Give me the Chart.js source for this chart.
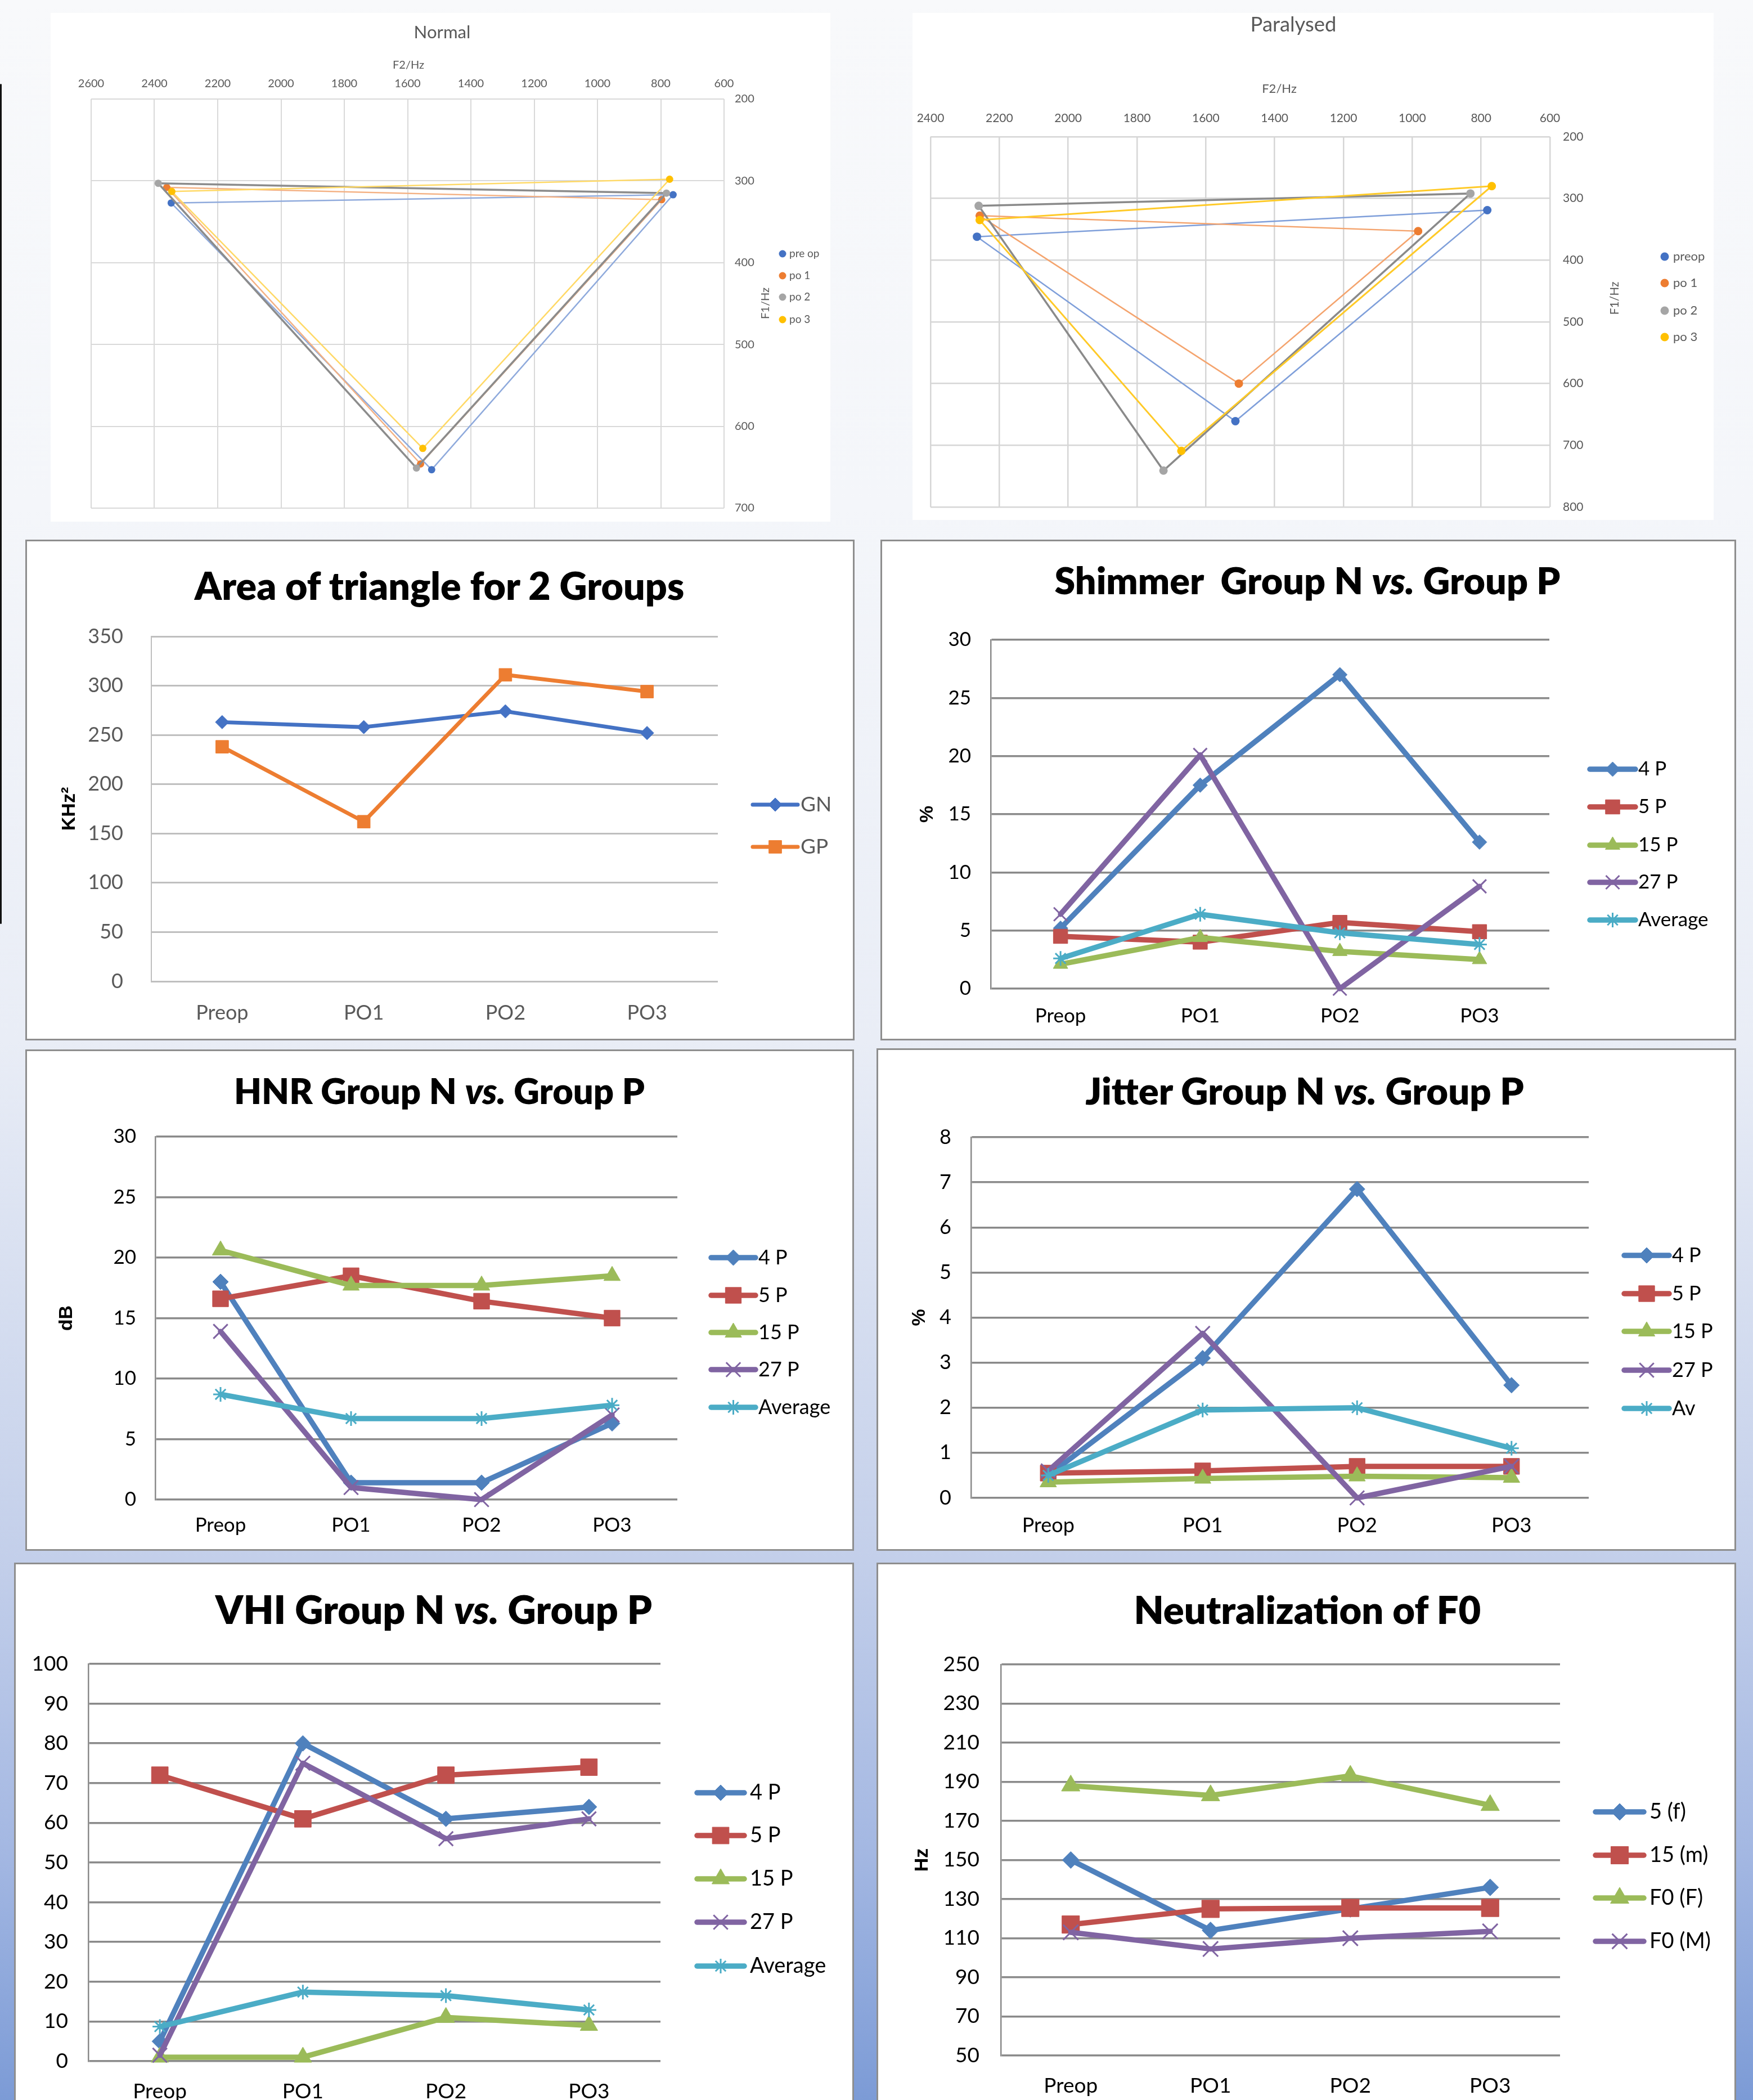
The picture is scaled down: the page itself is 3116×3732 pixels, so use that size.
<!DOCTYPE html>
<html lang="en">
<head>
<meta charset="utf-8">
<title>Vowel triangles and voice measures</title>
<script src="https://cdn.jsdelivr.net/npm/chart.js@4.4.1/dist/chart.umd.min.js"></script>
<style>
  html, body { margin: 0; padding: 0; }
  body {
    position: relative; width: 3116px; height: 3732px; overflow: hidden;
    background: linear-gradient(180deg, #f8f9fb 0px, #f4f6fa 900px, #e9edf6 1850px,
                #c3cfea 2770px, #a3b7e2 3300px, #7c9bd6 3732px);
  }
  .edge { position: absolute; left: 0; top: 149px; width: 3px; height: 1493px; background: #111; border-radius: 2px; }
  .panel { position: absolute; background: #fff; box-sizing: border-box; }
  .panel.framed { border: 3px solid #8e8e8e; }
  .panel canvas { position: absolute; left: 0; top: 0; }
  .title { position: absolute; z-index: 2; white-space: pre; line-height: 1; transform: translate(-50%, -50%);
           font-family: Lato, "Open Sans", sans-serif; }
</style>
</head>
<body>
<div class="edge"></div>
<script>
// ---------------- data ----------------
const stages = ['Preop', 'PO1', 'PO2', 'PO3'];

// Vowel triangles: F2 and F1 (Hz) of the three corner vowels
const normalKeys = ['pre op', 'po 1', 'po 2', 'po 3'];
const normalPreOpF2 = [2347, 761, 1524];
const normalPreOpF1 = [327, 317, 653];
const normalPo1F2 = [2361, 797, 1559];
const normalPo1F1 = [308, 323, 646];
const normalPo2F2 = [2388, 782, 1572];
const normalPo2F1 = [303, 315, 651];
const normalPo3F2 = [2345, 772, 1552];
const normalPo3F1 = [313, 298, 627];

const paralysedKeys = ['preop', 'po 1', 'po 2', 'po 3'];
const paralysedPreOpF2 = [2265, 782, 1514];
const paralysedPreOpF1 = [362, 319, 661];
const paralysedPo1F2 = [2257, 983, 1504];
const paralysedPo1F1 = [328, 353, 600];
const paralysedPo2F2 = [2260, 831, 1723];
const paralysedPo2F1 = [312, 292, 741];
const paralysedPo3F2 = [2257, 769, 1671];
const paralysedPo3F1 = [335, 280, 709];

// Area of the vowel triangle (KHz²)
const areaKeys = ['GN', 'GP'];
const areaGN = [263, 258, 274, 252];
const areaGP = [238, 162, 311, 294];

// Patient series shared by the shimmer / HNR / jitter / VHI panels
const patientKeys = ['4 P', '5 P', '15 P', '27 P', 'Average'];
const jitterKeys = ['4 P', '5 P', '15 P', '27 P', 'Av'];

const shimmer4P = [5.2, 17.5, 27.0, 12.6];
const shimmer5P = [4.5, 4.0, 5.7, 4.9];
const shimmer15P = [2.1, 4.4, 3.2, 2.5];
const shimmer27P = [6.4, 20.1, 0, 8.8];
const shimmerAvg = [2.6, 6.4, 4.8, 3.8];

const hnr4P = [18.0, 1.4, 1.4, 6.3];
const hnr5P = [16.6, 18.5, 16.4, 15.0];
const hnr15P = [20.6, 17.7, 17.7, 18.5];
const hnr27P = [13.9, 1.0, 0, 7.0];
const hnrAvg = [8.7, 6.7, 6.7, 7.8];

const jitter4P = [0.5, 3.1, 6.85, 2.5];
const jitter5P = [0.55, 0.6, 0.7, 0.7];
const jitter15P = [0.35, 0.43, 0.48, 0.45];
const jitter27P = [0.6, 3.65, 0, 0.7];
const jitterAv = [0.5, 1.95, 2.0, 1.1];

const vhi4P = [5, 80, 61, 64];
const vhi5P = [72, 61, 72, 74];
const vhi15P = [1, 1, 11, 9];
const vhi27P = [1.5, 75, 56, 61];
const vhiAvg = [8.7, 17.4, 16.5, 12.9];

// Fundamental frequency (Hz)
const f0Keys = ['5 (f)', '15 (m)', 'F0 (F)', 'F0 (M)'];
const f0Patient5 = [150, 114, 125, 136];
const f0Patient15 = [117, 125, 125.5, 125.5];
const f0NormF = [188, 183, 193, 178];
const f0NormM = [113, 104.5, 110, 113.5];

// ---------------- drawing helpers ----------------
const FONT = 'Lato, "Open Sans", sans-serif';
const AXIS_FONT = '"Liberation Sans", Arial, sans-serif';
Chart.defaults.font.family = FONT;

const BLUE = '#4F81BD', RED = '#C0504D', GREEN = '#9BBB59', PURPLE = '#8064A2', AQUA = '#4BACC6';

function mountPanel(box, framed) {
  const div = document.createElement('div');
  div.className = framed ? 'panel framed' : 'panel';
  div.style.left = box.x + 'px'; div.style.top = box.y + 'px';
  div.style.width = box.w + 'px'; div.style.height = box.h + 'px';
  const b = framed ? 3 : 0;
  const cv = document.createElement('canvas');
  cv.width = box.w - 2 * b; cv.height = box.h - 2 * b;
  cv.style.width = cv.width + 'px'; cv.style.height = cv.height + 'px';
  div.appendChild(cv);
  document.body.appendChild(div);
  return { cv, ox: box.x + b, oy: box.y + b, W: cv.width, H: cv.height };
}

const measureCtx = document.createElement('canvas').getContext('2d');
function addTitle(parts, cx, cy, width, weight, color) {
  let w100 = 0;
  parts.forEach(([t, it]) => {
    measureCtx.font = (it ? 'italic ' : '') + weight + ' 100px ' + FONT;
    w100 += measureCtx.measureText(t).width;
  });
  const div = document.createElement('div');
  div.className = 'title';
  div.style.left = cx + 'px'; div.style.top = cy + 'px';
  div.style.fontSize = (100 * width / w100).toFixed(1) + 'px';
  div.style.fontWeight = weight; div.style.color = color;
  parts.forEach(([t, it]) => {
    const s = document.createElement('span');
    s.textContent = t;
    if (it) s.style.fontStyle = 'italic';
    div.appendChild(s);
  });
  document.body.appendChild(div);
}

function drawMarker(ctx, style, r, bw, x, y) {
  const H = Chart.helpers;
  if (H && H.drawPoint) {
    H.drawPoint(ctx, { pointStyle: style, radius: r, borderWidth: bw, rotation: 0 }, x, y);
    return;
  }
  const c = Math.SQRT1_2 * r;
  ctx.beginPath();
  if (style === 'rect') ctx.rect(x - c, y - c, 2 * c, 2 * c);
  else if (style === 'rectRot') { ctx.moveTo(x - r, y); ctx.lineTo(x, y - r); ctx.lineTo(x + r, y); ctx.lineTo(x, y + r); ctx.closePath(); }
  else if (style === 'triangle') { ctx.moveTo(x, y - r); ctx.lineTo(x + 0.866 * r, y + r / 2); ctx.lineTo(x - 0.866 * r, y + r / 2); ctx.closePath(); }
  else if (style === 'crossRot' || style === 'star') {
    ctx.moveTo(x - c, y - c); ctx.lineTo(x + c, y + c); ctx.moveTo(x - c, y + c); ctx.lineTo(x + c, y - c);
    if (style === 'star') { ctx.moveTo(x, y - r); ctx.lineTo(x, y + r); ctx.moveTo(x - r, y); ctx.lineTo(x + r, y); }
  } else ctx.arc(x, y, r, 0, Math.PI * 2);
  ctx.fill();
  if (bw > 0) ctx.stroke();
}

// Axis boxes get fixed sizes so the plot area sits at a chosen place
function fixBox(size, horizontal) {
  return s => {
    if (horizontal) { s.height = size; s.paddingLeft = 0; s.paddingRight = 0; }
    else { s.width = size; s.paddingTop = 0; s.paddingBottom = 0; }
  };
}

// Legend column and free axis captions, positioned in page coordinates
function keyPlugin(p, key) {
  return {
    id: 'sideKey',
    afterDraw(chart) {
      const ctx = chart.ctx;
      ctx.save();
      chart.data.datasets.forEach((ds, i) => {
        const y = key.rows[i] - p.oy;
        let mx = key.x0 - p.ox;
        if (key.x1 !== undefined) {
          ctx.strokeStyle = ds.borderColor; ctx.lineWidth = ds.borderWidth; ctx.lineCap = 'round';
          ctx.beginPath(); ctx.moveTo(key.x0 - p.ox, y); ctx.lineTo(key.x1 - p.ox, y); ctx.stroke();
          mx = (key.x0 + key.x1) / 2 - p.ox;
        }
        const r = Array.isArray(ds.pointRadius) ? ds.pointRadius[0] : ds.pointRadius;
        ctx.fillStyle = ds.pointBackgroundColor; ctx.strokeStyle = ds.pointBorderColor;
        ctx.lineWidth = ds.pointBorderWidth; ctx.lineCap = 'butt';
        drawMarker(ctx, ds.pointStyle, r, ds.pointBorderWidth, mx, y);
        ctx.fillStyle = key.color; ctx.font = key.size + 'px ' + FONT;
        ctx.textAlign = 'left'; ctx.textBaseline = 'middle';
        ctx.fillText(ds.label, key.textX - p.ox, y);
      });
      (key.texts || []).forEach(t => {
        ctx.save();
        ctx.translate(t.x - p.ox, t.y - p.oy);
        ctx.rotate(t.rot || 0);
        ctx.fillStyle = key.color; ctx.font = t.size + 'px ' + FONT;
        ctx.textAlign = 'center'; ctx.textBaseline = 'middle';
        ctx.fillText(t.text, 0, 0);
        ctx.restore();
      });
      ctx.restore();
    }
  };
}

// Line chart over the four assessment stages
function stageChart(p, spec) {
  const L = spec.plot.l - p.ox, T = spec.plot.t - p.oy, R = spec.plot.r - p.ox, B = spec.plot.b - p.oy;
  const lh = spec.tickSize * 1.2;
  const n = spec.series.length;
  const datasets = spec.series.map(([label, values, color, style, r], i) => ({
    label, data: values,
    borderColor: color, backgroundColor: color, borderWidth: spec.lineWidth,
    borderJoinStyle: 'round', borderCapStyle: 'round', tension: 0,
    pointStyle: style, pointRadius: r, pointHoverRadius: r,
    pointBackgroundColor: color, pointBorderColor: color,
    pointBorderWidth: (style === 'crossRot' || style === 'star') ? 3 : 1,
    clip: false, order: n - i
  }));
  const tickFont = { family: FONT, size: spec.tickSize };
  const yTitle = spec.yTitle ? {
    display: true, text: spec.yTitle, color: '#000',
    font: { family: AXIS_FONT, size: spec.yTitleSize, weight: 'bold' },
    padding: { top: (spec.yTitleX - p.ox) - spec.yTitleSize * 0.6, bottom: 0 }
  } : { display: false };
  return new Chart(p.cv, {
    type: 'line',
    data: { labels: stages, datasets },
    options: {
      responsive: false, animation: false, devicePixelRatio: 1,
      layout: { padding: { left: 0, top: T, right: p.W - R, bottom: 0 } },
      plugins: { legend: { display: false }, tooltip: { enabled: false } },
      scales: {
        x: {
          type: 'category', offset: true,
          grid: { display: false, drawTicks: false }, border: { display: false },
          ticks: { color: spec.tickColor, font: tickFont, padding: (spec.xLabelY - p.oy) - B - lh / 2,
                   maxRotation: 0, autoSkip: false },
          afterFit: fixBox(p.H - B, true)
        },
        y: {
          type: 'linear', min: spec.y.min, max: spec.y.max,
          ticks: { stepSize: spec.y.step, color: spec.tickColor, font: tickFont,
                   padding: L - (spec.yLabelRight - p.ox) },
          grid: { color: spec.grid.color, lineWidth: spec.grid.width, drawTicks: false },
          border: { display: true, color: spec.axisLine.color, width: spec.axisLine.width },
          title: yTitle,
          afterFit: fixBox(L, false)
        }
      }
    },
    plugins: [keyPlugin(p, spec.key)]
  });
}

// F2/F1 scatter with each triangle closed back to its first corner
function vowelChart(p, spec) {
  const L = spec.plot.l - p.ox, T = spec.plot.t - p.oy, R = spec.plot.r - p.ox, B = spec.plot.b - p.oy;
  const lh = spec.tickSize * 1.2;
  const n = spec.series.length;
  const datasets = spec.series.map(([label, f2, f1, color, lineColor, lineW], i) => {
    const pts = f2.map((v, k) => ({ x: v, y: f1[k] }));
    pts.push({ x: f2[0], y: f1[0] });
    return {
      label, data: pts, showLine: true,
      borderColor: lineColor, borderWidth: lineW, tension: 0,
      pointStyle: 'circle', pointRadius: [spec.dot, spec.dot, spec.dot, 0], pointHoverRadius: spec.dot,
      pointBackgroundColor: color, pointBorderColor: color, pointBorderWidth: 0,
      clip: false, order: n - i
    };
  });
  const tickFont = { family: FONT, size: spec.tickSize };
  const grid = { color: spec.gridColor, lineWidth: spec.gridWidth, drawTicks: false };
  return new Chart(p.cv, {
    type: 'scatter',
    data: { datasets },
    options: {
      responsive: false, animation: false, devicePixelRatio: 1,
      layout: { padding: { left: L, top: 0, right: 0, bottom: p.H - B } },
      plugins: { legend: { display: false }, tooltip: { enabled: false } },
      scales: {
        x: {
          type: 'linear', position: 'top', reverse: true, min: spec.x.min, max: spec.x.max,
          ticks: { stepSize: spec.x.step, color: '#595959', font: tickFont, callback: v => String(v),
                   padding: T - (spec.xLabelY - p.oy) - lh / 2 },
          grid, border: { display: false },
          afterFit: fixBox(T, true)
        },
        y: {
          type: 'linear', position: 'right', reverse: true, min: spec.y.min, max: spec.y.max,
          ticks: { stepSize: spec.y.step, color: '#595959', font: tickFont, callback: v => String(v),
                   padding: (spec.yLabelLeft - p.ox) - R },
          grid, border: { display: false },
          afterFit: fixBox(p.W - R, false)
        }
      }
    },
    plugins: [keyPlugin(p, spec.key)]
  });
}

// ---------------- panels ----------------
// Normal group vowel triangle
const normalPanel = mountPanel({ x: 90, y: 23, w: 1386, h: 904 }, false);
vowelChart(normalPanel, {
  plot: { l: 162, t: 176, r: 1287, b: 903 },
  x: { min: 600, max: 2600, step: 200 }, y: { min: 200, max: 700, step: 100 },
  tickSize: 20, xLabelY: 149, yLabelLeft: 1306,
  gridColor: '#d9d9d9', gridWidth: 2, dot: 6.5,
  series: [
    [normalKeys[0], normalPreOpF2, normalPreOpF1, '#4472C4', '#8FAADC', 2.5],
    [normalKeys[1], normalPo1F2, normalPo1F1, '#ED7D31', '#F4B183', 2.5],
    [normalKeys[2], normalPo2F2, normalPo2F1, '#A5A5A5', '#8C8C8C', 3.5],
    [normalKeys[3], normalPo3F2, normalPo3F1, '#FFC000', '#FFD966', 2.5]
  ],
  key: {
    x0: 1391, textX: 1403, rows: [451, 490, 528, 568], size: 19, color: '#595959',
    texts: [
      { text: 'F2/Hz', x: 726, y: 116, size: 20 },
      { text: 'F1/Hz', x: 1361, y: 539, size: 20, rot: -Math.PI / 2 }
    ]
  }
});
addTitle([['Normal', false]], 786, 57, 101, 400, '#595959');

// Paralysed group vowel triangle
const paralysedPanel = mountPanel({ x: 1622, y: 23, w: 1424, h: 901 }, false);
vowelChart(paralysedPanel, {
  plot: { l: 1654, t: 243, r: 2755, b: 901 },
  x: { min: 600, max: 2400, step: 200 }, y: { min: 200, max: 800, step: 100 },
  tickSize: 21, xLabelY: 210, yLabelLeft: 2778,
  gridColor: '#d6d6d6', gridWidth: 2.5, dot: 7.5,
  series: [
    [paralysedKeys[0], paralysedPreOpF2, paralysedPreOpF1, '#4472C4', '#7F9FDA', 2.5],
    [paralysedKeys[1], paralysedPo1F2, paralysedPo1F1, '#ED7D31', '#F4A46E', 2.5],
    [paralysedKeys[2], paralysedPo2F2, paralysedPo2F1, '#A5A5A5', '#8A8A8A', 3.5],
    [paralysedKeys[3], paralysedPo3F2, paralysedPo3F1, '#FFC000', '#FFCA28', 3]
  ],
  key: {
    x0: 2959, textX: 2974, rows: [456, 503, 552, 599], size: 22, color: '#595959',
    texts: [
      { text: 'F2/Hz', x: 2274, y: 158, size: 22 },
      { text: 'F1/Hz', x: 2870, y: 530, size: 21, rot: -Math.PI / 2 }
    ]
  }
});
addTitle([['Paralysed', false]], 2299, 42, 153, 400, '#595959');

// Area of triangle
const areaPanel = mountPanel({ x: 45, y: 959, w: 1474, h: 890 }, true);
stageChart(areaPanel, {
  plot: { l: 269, t: 1131, r: 1276, b: 1744 },
  y: { min: 0, max: 350, step: 50 },
  tickSize: 36, tickColor: '#595959', xLabelY: 1800, yLabelRight: 219,
  grid: { color: '#bfbfbf', width: 3 }, axisLine: { color: '#bfbfbf', width: 2 },
  yTitle: 'KHz²', yTitleX: 124, yTitleSize: 34,
  lineWidth: 7,
  series: [
    [areaKeys[0], areaGN, '#4472C4', 'rectRot', 12],
    [areaKeys[1], areaGP, '#ED7D31', 'rect', 16]
  ],
  key: { x0: 1338, x1: 1418, textX: 1423, rows: [1430, 1505], size: 37, color: '#595959' }
});
addTitle([['Area of triangle for 2 Groups', false]], 781, 1040, 873, 800, '#000');

const EXCEL_GRID = { color: '#8a8a8a', width: 3.5 };
const EXCEL_AXIS = { color: '#8a8a8a', width: 2.5 };
const EXCEL_LINE = 9.5;

// Shimmer
const shimmerPanel = mountPanel({ x: 1565, y: 959, w: 1521, h: 890 }, true);
stageChart(shimmerPanel, {
  plot: { l: 1761, t: 1137, r: 2754, b: 1757 },
  y: { min: 0, max: 30, step: 5 },
  tickSize: 35, tickColor: '#000', xLabelY: 1806, yLabelRight: 1726,
  grid: EXCEL_GRID, axisLine: EXCEL_AXIS,
  yTitle: '%', yTitleX: 1649, yTitleSize: 34,
  lineWidth: EXCEL_LINE,
  series: [
    [patientKeys[0], shimmer4P, BLUE, 'rectRot', 13],
    [patientKeys[1], shimmer5P, RED, 'rect', 18],
    [patientKeys[2], shimmer15P, GREEN, 'triangle', 15],
    [patientKeys[3], shimmer27P, PURPLE, 'crossRot', 17],
    [patientKeys[4], shimmerAvg, AQUA, 'star', 13]
  ],
  key: { x0: 2826, x1: 2907, textX: 2912, rows: [1367, 1434, 1502, 1568, 1635], size: 35, color: '#000' }
});
addTitle([['Shimmer  Group N ', false], ['vs.', true], [' Group P', false]], 2324, 1031, 900, 800, '#000');

// HNR
const hnrPanel = mountPanel({ x: 45, y: 1865, w: 1473, h: 891 }, true);
stageChart(hnrPanel, {
  plot: { l: 276, t: 2020, r: 1204, b: 2665 },
  y: { min: 0, max: 30, step: 5 },
  tickSize: 35, tickColor: '#000', xLabelY: 2711, yLabelRight: 242,
  grid: EXCEL_GRID, axisLine: EXCEL_AXIS,
  yTitle: 'dB', yTitleX: 119, yTitleSize: 34,
  lineWidth: EXCEL_LINE,
  series: [
    [patientKeys[0], hnr4P, BLUE, 'rectRot', 14],
    [patientKeys[1], hnr5P, RED, 'rect', 20],
    [patientKeys[2], hnr15P, GREEN, 'triangle', 17],
    [patientKeys[3], hnr27P, PURPLE, 'crossRot', 18],
    [patientKeys[4], hnrAvg, AQUA, 'star', 13]
  ],
  key: { x0: 1264, x1: 1343, textX: 1348, rows: [2235, 2302, 2368, 2434, 2501], size: 36, color: '#000' }
});
addTitle([['HNR Group N ', false], ['vs.', true], [' Group P', false]], 781, 1938, 730, 800, '#000');

// Jitter
const jitterPanel = mountPanel({ x: 1558, y: 1863, w: 1528, h: 893 }, true);
stageChart(jitterPanel, {
  plot: { l: 1726, t: 2021, r: 2824, b: 2662 },
  y: { min: 0, max: 8, step: 1 },
  tickSize: 36, tickColor: '#000', xLabelY: 2711, yLabelRight: 1691,
  grid: EXCEL_GRID, axisLine: EXCEL_AXIS,
  yTitle: '%', yTitleX: 1635, yTitleSize: 34,
  lineWidth: EXCEL_LINE,
  series: [
    [jitterKeys[0], jitter4P, BLUE, 'rectRot', 14],
    [jitterKeys[1], jitter5P, RED, 'rect', 20],
    [jitterKeys[2], jitter15P, GREEN, 'triangle', 17],
    [jitterKeys[3], jitter27P, PURPLE, 'crossRot', 18],
    [jitterKeys[4], jitterAv, AQUA, 'star', 13]
  ],
  key: { x0: 2887, x1: 2967, textX: 2972, rows: [2231, 2299, 2366, 2435, 2503], size: 36, color: '#000' }
});
addTitle([['Jitter Group N ', false], ['vs.', true], [' Group P', false]], 2319, 1937, 781, 800, '#000');

// VHI
const vhiPanel = mountPanel({ x: 25, y: 2777, w: 1493, h: 1000 }, true);
stageChart(vhiPanel, {
  plot: { l: 157, t: 2957, r: 1174, b: 3663 },
  y: { min: 0, max: 100, step: 10 },
  tickSize: 37, tickColor: '#000', xLabelY: 3717, yLabelRight: 121,
  grid: EXCEL_GRID, axisLine: EXCEL_AXIS,
  lineWidth: EXCEL_LINE,
  series: [
    [patientKeys[0], vhi4P, BLUE, 'rectRot', 14],
    [patientKeys[1], vhi5P, RED, 'rect', 21],
    [patientKeys[2], vhi15P, GREEN, 'triangle', 18],
    [patientKeys[3], vhi27P, PURPLE, 'crossRot', 18],
    [patientKeys[4], vhiAvg, AQUA, 'star', 13]
  ],
  key: { x0: 1239, x1: 1323, textX: 1333, rows: [3186, 3262, 3339, 3416, 3494], size: 38, color: '#000' }
});
addTitle([['VHI Group N ', false], ['vs.', true], [' Group P', false]], 771, 2860, 776, 800, '#000');

// Fundamental frequency
const f0Panel = mountPanel({ x: 1558, y: 2777, w: 1528, h: 1000 }, true);
stageChart(f0Panel, {
  plot: { l: 1779, t: 2958, r: 2773, b: 3653 },
  y: { min: 50, max: 250, step: 20 },
  tickSize: 37, tickColor: '#000', xLabelY: 3707, yLabelRight: 1741,
  grid: EXCEL_GRID, axisLine: EXCEL_AXIS,
  yTitle: 'Hz', yTitleX: 1640, yTitleSize: 34,
  lineWidth: EXCEL_LINE,
  series: [
    [f0Keys[0], f0Patient5, BLUE, 'rectRot', 15],
    [f0Keys[1], f0Patient15, RED, 'rect', 22],
    [f0Keys[2], f0NormF, GREEN, 'triangle', 19],
    [f0Keys[3], f0NormM, PURPLE, 'crossRot', 19]
  ],
  key: { x0: 2836, x1: 2922, textX: 2932, rows: [3220, 3297, 3373, 3450], size: 38, color: '#000' }
});
addTitle([['Neutralization of F0', false]], 2324, 2860, 618, 800, '#000');
</script>
</body>
</html>
